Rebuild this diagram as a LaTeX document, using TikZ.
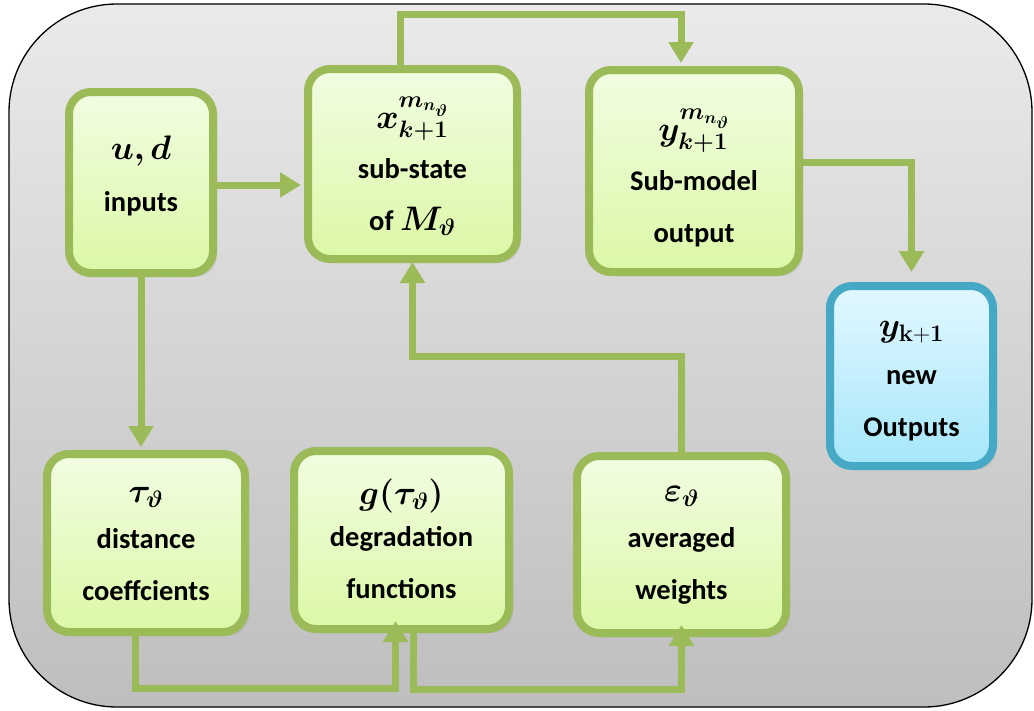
\documentclass[tikz,border=0pt]{standalone}
\usepackage{fix-cm}
\usepackage{amsmath,bm}
\usepackage[no-math]{fontspec}
\setmainfont{Carlito}
\usetikzlibrary{arrows.meta,shadows}
\definecolor{gline}{HTML}{9BBB59}
\definecolor{gtop}{HTML}{F1FDE2}
\definecolor{gbot}{HTML}{DBF8A6}
\definecolor{bline}{HTML}{45A9C6}
\definecolor{btop}{HTML}{E2F8FF}
\definecolor{bbot}{HTML}{A6E6FA}
\definecolor{bgtop}{HTML}{EAEAEA}
\definecolor{bgbot}{HTML}{BEBEBE}
\newcommand{\mth}[1]{{\fontsize{34}{52}\selectfont$#1$}}
\tikzset{
  box/.style={draw=gline, line width=8pt, rounded corners=22pt,
    top color=gtop, bottom color=gbot, inner sep=0pt,
    drop shadow={opacity=0.18, shadow xshift=4pt, shadow yshift=-4pt}},
  bluebox/.style={box, draw=bline, top color=btop, bottom color=bbot},
  lbl/.style={align=center, inner sep=0pt,
    font=\fontsize{28.5}{52}\selectfont\bfseries},
  conn/.style={draw=gline, line width=7pt, line join=miter,
    -{Triangle[width=24pt,length=21pt]}},
  frame/.style={draw=black, line width=1.3pt, top color=bgtop, bottom color=bgbot,
    rounded corners=108pt}
}
\begin{document}
\begin{tikzpicture}[x=1pt,y=-1pt]
\useasboundingbox (0,0) rectangle (1034,710);
\path[frame] (9,4) rectangle (1032,707);

\node[box, minimum width=144pt, minimum height=181pt] (inp) at (141,182.5) {};
\node[box, minimum width=209pt, minimum height=190pt] (sub) at (412.5,164) {};
\node[box, minimum width=210pt, minimum height=202pt] (out) at (694,171) {};
\node[bluebox, minimum width=163pt, minimum height=180pt] (new) at (911.5,376) {};
\node[box, minimum width=198pt, minimum height=178pt] (tau) at (146,543) {};
\node[box, minimum width=215pt, minimum height=178pt] (g) at (401.5,540) {};
\node[box, minimum width=209pt, minimum height=177pt] (eps) at (681.5,544.5) {};

\node[lbl] (inp-t) at ([yshift=7pt]inp.center)
  {\mth{\bm{u,d}}\\inputs};
\node[lbl] (sub-t) at ([yshift=-2pt]sub.center)
  {\mth{\bm{x^{m_{n_{\vartheta}}}_{k+1}}}\\[-2pt]sub-state\\of \mth{\bm{M_{\vartheta}}}};
\node[lbl] (out-t) at ([yshift=-7pt]out.center)
  {\mth{\bm{y^{m_{n_{\vartheta}}}_{k+1}}}\\[-2pt]Sub-model\\output};
\node[lbl] (new-t) at ([yshift=-5pt]new.center)
  {\mth{\bm{y}_{\mathbf{k+1}}}\\[-4pt]new\\Outputs};
\node[lbl] (tau-t) at ([yshift=-1pt]tau.center)
  {\mth{\bm{\tau_{\vartheta}}}\\[-6pt]distance\\coeffcients};
\node[lbl] (g-t) at ([yshift=1pt]g.center)
  {\mth{\bm{g(\tau_{\vartheta})}}\\[-10pt]degradation\\functions};
\node[lbl] (eps-t) at ([yshift=-1pt]eps.center)
  {\mth{\bm{\varepsilon_{\vartheta}}}\\[-6pt]averaged\\weights};

\draw[conn, shorten >=3pt] ([yshift=-2.5pt]inp.east) -- ([yshift=-2.5pt]sub.west |- inp.east);
\draw[conn, shorten >=3pt] ([xshift=-12pt]sub.north) -- ++(0,-51) -| ([xshift=-13pt]out.north);
\draw[conn, shorten >=10pt] ([yshift=9pt]out.east) -| (new.north);
\draw[conn, shorten >=3pt] (inp.south) -- (inp.south |- tau.north);
\draw[conn, shorten >=-12pt] ([xshift=-11pt]tau.south) -- ++(0,52) -| ([xshift=-6pt]g.south);
\draw[conn, shorten >=-12pt] ([xshift=11.5pt]g.south) -- ++(0,56) -| (eps.south);
\draw[conn, shorten >=-1pt] (eps.north) -- ++(0,-96) -| (sub.south);
\end{tikzpicture}
\end{document}
